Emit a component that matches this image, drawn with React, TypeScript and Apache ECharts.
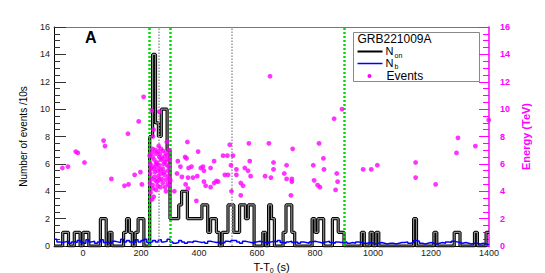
import React, { useEffect, useRef } from "react";
import * as echarts from "echarts";

const binStart = -100;
const binWidth = 10;

// N_on counts per 10 s bin, from T-T0 = -100 s to 1390 s
const nOn = [
  0, 0, 0, 1, 1, 0, 0, 1, 1, 0,
  1, 1, 0, 0, 0, 0, 2, 2, 0, 1,
  0, 0, 0, 0, 1, 2, 1, 0, 1, 2,
  2, 0, 0, 8, 14, 9, 8, 10, 10, 7,
  2, 2, 2, 3, 4, 4, 2, 2, 2, 2,
  2, 3, 3, 1, 2, 2, 1, 0, 1, 1,
  3, 3, 1, 1, 3, 3, 2, 3, 3, 0,
  0, 0, 1, 0, 3, 2, 0, 0, 0, 1,
  3, 3, 1, 0, 0, 0, 0, 0, 0, 2,
  1, 2, 2, 0, 0, 0, 2, 2, 1, 1,
  0, 0, 0, 0, 0, 0, 1, 0, 0, 1,
  0, 1, 0, 0, 0, 0, 0, 0, 0, 0,
  0, 0, 0, 0, 2, 0, 0, 0, 0, 0,
  0, 1, 0, 0, 0, 0, 0, 0, 1, 1,
  0, 0, 0, 0, 0, 1, 0, 0, 0, 1,
];

// N_b background per 10 s bin
const nB = [
  0.5, 0.3, 0.25, 0.3, 0.35, 0.2, 0.3, 0.25, 0.4, 0.3,
  0.2, 0.45, 0.3, 0.35, 0.2, 0.3, 0.45, 0.25, 0.3, 0.2,
  0.35, 0.3, 0.25, 0.5, 0.3, 0.4, 0.3, 0.25, 0.45, 0.3,
  0.4, 0.5, 0.25, 0.3, 0.4, 0.3, 0.45, 0.3, 0.35, 0.5,
  0.3, 0.2, 0.25, 0.4, 0.3, 0.2, 0.3, 0.25, 0.35, 0.3,
  0.25, 0.3, 0.2, 0.35, 0.3, 0.25, 0.3, 0.2, 0.25, 0.35,
  0.3, 0.4, 0.4, 0.3, 0.2, 0.35, 0.3, 0.25, 0.2, 0.3,
  0.35, 0.3, 0.25, 0.2, 0.3, 0.35, 0.3, 0.4, 0.25, 0.2,
  0.3, 0.35, 0.25, 0.3, 0.2, 0.3, 0.25, 0.2, 0.3, 0.35,
  0.3, 0.25, 0.2, 0.3, 0.35, 0.25, 0.2, 0.3, 0.25, 0.3,
  0.3, 0.2, 0.25, 0.2, 0.3, 0.25, 0.2, 0.2, 0.25, 0.2,
  0.15, 0.2, 0.25, 0.2, 0.15, 0.2, 0.2, 0.15, 0.2, 0.25,
  0.25, 0.3, 0.2, 0.25, 0.4, 0.35, 0.2, 0.15, 0.2, 0.25,
  0.2, 0.15, 0.2, 0.25, 0.2, 0.3, 0.25, 0.35, 0.3, 0.25,
  0.2, 0.25, 0.2, 0.15, 0.2, 0.2, 0.15, 0.2, 0.15, 0.1,
];

// Events: [T-T0 (s), energy (TeV)]
const preBurstEvents = [
  [-71, 5.7], [-52, 5.8], [-25, 6.9], [-18, 6.8], [5, 6.1], [71, 7.7], [76, 7.3],
  [98, 4.9], [143, 4.4], [157, 4.5], [155, 8.2], [178, 5.2], [198, 5.4], [203, 4.5],
  [209, 10.9], [192, 9.1],
];
const burstEvents = [
  [237, 9.9], [263, 9.8], [243, 8.5], [241, 8.0], [289, 7.6],
  [269, 7.1], [258, 6.9], [275, 6.95], [252, 6.75], [286, 6.8], [240, 6.5], [263, 6.5],
  [281, 6.55], [292, 6.6], [246, 6.3], [269, 6.3], [255, 6.1], [283, 6.15], [232, 6.0],
  [263, 5.9], [290, 5.9], [244, 5.65], [275, 5.65], [258, 5.5], [292, 5.5], [232, 5.3],
  [269, 5.3], [281, 5.2], [246, 5.05], [263, 4.85], [286, 4.85], [255, 4.7], [275, 4.6],
  [292, 4.55], [240, 4.45], [267, 4.3], [298, 4.4], [252, 4.1], [286, 4.0], [244, 3.6],
  [240, 7.1], [298, 6.3], [234, 5.65], [237, 6.8], [249, 7.0], [261, 7.3], [272, 6.4],
  [278, 6.0], [288, 6.3], [296, 5.8], [236, 4.9], [248, 5.4], [260, 5.1], [271, 4.9],
  [279, 5.4], [294, 5.1], [242, 4.2], [257, 4.4], [283, 4.3], [231, 4.6], [265, 6.7],
  [251, 6.0], [238, 5.8], [299, 4.9], [253, 5.8], [266, 5.6], [230, 6.6], [233, 3.9],
  [238, 3.4], [296, 7.0], [250, 4.8],
];
const postBurstEvents = [
  [327, 6.2], [336, 5.8], [352, 6.5], [324, 5.3], [341, 5.05], [315, 4.0], [301, 4.8],
  [360, 7.6], [397, 6.9], [357, 6.4], [452, 6.2], [483, 6.6], [498, 6.6], [517, 6.6],
  [506, 7.4], [572, 7.5], [575, 6.2], [364, 5.7], [374, 5.8], [406, 5.7], [414, 5.8],
  [440, 5.7], [417, 5.5], [510, 5.9], [529, 5.6], [558, 5.7], [569, 5.5], [362, 5.0],
  [379, 5.0], [394, 5.1], [489, 5.2], [500, 5.2], [529, 5.2], [578, 5.1], [354, 4.5],
  [417, 4.7], [452, 4.6], [460, 4.75], [466, 4.7], [423, 4.4], [440, 4.3], [544, 4.6],
  [552, 4.4], [362, 4.2], [512, 4.0], [391, 3.3], [544, 3.7],
  [645, 12.4], [866, 9.3], [893, 10.0], [641, 7.5], [814, 7.5], [723, 7.1], [829, 6.4],
  [657, 6.1], [657, 5.6], [702, 5.9], [794, 5.9], [831, 5.6], [628, 5.1], [648, 5.0],
  [694, 5.3], [702, 4.9], [720, 4.9], [720, 4.7], [797, 4.8], [875, 5.3], [878, 4.7],
  [809, 4.45], [817, 4.3], [871, 4.1], [717, 3.7], [966, 5.6], [994, 5.6], [1015, 5.9],
  [1147, 6.1], [1147, 5.0], [1216, 4.5], [1288, 6.8], [1293, 7.9], [1353, 7.3], [1399, 9.2],
];

const greenLines = [230, 300, 900];
const grayLines = [260, 512];

const FONT = "Liberation Sans";
const MAGENTA = "#ff00ff";

export default function App() {
  const ref = useRef<HTMLDivElement>(null);
  useEffect(() => {
    const chart = echarts.init(ref.current!, null, { renderer: "svg" });
    const toStep = (arr: number[]) => {
      const d = arr.map((v, i) => [binStart + i * binWidth, v]);
      d.push([binStart + arr.length * binWidth, arr[arr.length - 1]]);
      return d;
    };
    const onData = toStep(nOn);
    const bData = toStep(nB);
    const events = [...preBurstEvents, ...burstEvents, ...postBurstEvents];

    const legText = (text: string, x: number, y: number, size: number, lh: number) => ({
      type: "text",
      x,
      y,
      style: {
        text,
        font: `${size}px "${FONT}"`,
        fill: "#000",
        verticalAlign: "middle",
        lineHeight: lh,
      },
    });

    chart.setOption({
      animation: false,
      textStyle: { fontFamily: FONT },
      grid: { left: 54, right: 56, top: 27, bottom: 27, containLabel: false, outerBoundsMode: "none" },
      xAxis: [
        {
          type: "value",
          min: -100,
          max: 1400,
          interval: 100,
          name: "T-T{sub|0} (s)",
          nameLocation: "middle",
          nameGap: 8,
          nameTextStyle: {
            fontFamily: FONT,
            fontSize: 11,
            color: "#000",
            rich: { sub: { fontSize: 7, verticalAlign: "bottom", padding: [6, 0, 0, 0], fontFamily: FONT } },
          },
          axisLine: { show: true, onZero: false, lineStyle: { color: "#000", width: 1 } },
          axisTick: { show: false },
          splitLine: { show: false },
          axisLabel: {
            fontFamily: FONT,
            fontSize: 9,
            color: "#222",
            margin: 2,
            showMinLabel: true,
            showMaxLabel: true,
            formatter: (v: number) => (v >= 0 && v % 200 === 0 ? String(v) : ""),
          },
        },
        {
          type: "value",
          position: "top",
          min: -100,
          max: 1400,
          interval: 100,
          axisLine: { show: true, onZero: false, lineStyle: { color: "#777", width: 1 } },
          axisTick: { show: false },
          axisLabel: { show: false },
          splitLine: { show: false },
        },
      ],
      yAxis: [
        {
          type: "value",
          position: "left",
          min: 0,
          max: 16,
          interval: 2,
          name: "Number of events /10s",
          nameLocation: "middle",
          nameRotate: 90,
          nameGap: 26,
          nameTextStyle: { fontFamily: FONT, fontSize: 10, color: "#000" },
          axisLine: { show: true, onZero: false, lineStyle: { color: "#000", width: 1 } },
          axisTick: { show: true, inside: true, length: 12, lineStyle: { color: "#333" } },
          minorTick: { show: true, splitNumber: 4, length: 6, lineStyle: { color: "#333" } },
          splitLine: { show: false },
          axisLabel: { fontFamily: FONT, fontSize: 9, color: "#222", margin: 4 },
        },
        {
          type: "value",
          position: "right",
          min: 0,
          max: 16,
          interval: 2,
          name: "Energy (TeV)",
          nameLocation: "middle",
          nameRotate: 90,
          nameGap: 30,
          nameTextStyle: { fontFamily: FONT, fontSize: 11, fontWeight: "bold", color: MAGENTA },
          axisLine: { show: true, onZero: false, lineStyle: { color: MAGENTA, width: 1.5 } },
          axisTick: { show: true, inside: true, length: 10, lineStyle: { color: MAGENTA } },
          minorTick: { show: true, splitNumber: 4, length: 6, lineStyle: { color: MAGENTA } },
          splitLine: { show: false },
          axisLabel: { fontFamily: FONT, fontSize: 9, fontWeight: "bold", color: MAGENTA, margin: 11 },
        },
      ],
      series: [
        {
          name: "Non",
          type: "line",
          step: "end",
          data: onData,
          symbol: "none",
          lineStyle: { color: "#000", width: 3.2 },
          z: 2,
          markLine: {
            silent: true,
            symbol: ["none", "none"],
            label: { show: false },
            data: [
              ...greenLines.map((x) => ({
                xAxis: x,
                lineStyle: { color: "#00e000", type: [2, 2], width: 2.5 },
              })),
              ...grayLines.map((x) => ({
                xAxis: x,
                lineStyle: { color: "#999", type: [1.5, 1.5], width: 1.5 },
              })),
            ],
          },
        },
        {
          name: "NonCore",
          type: "line",
          step: "end",
          data: onData,
          symbol: "none",
          lineStyle: { color: "#8a8a8a", width: 1.2 },
          z: 3,
        },
        {
          name: "Nb",
          type: "line",
          step: "end",
          data: bData,
          symbol: "none",
          lineStyle: { color: "#0000ff", width: 1.5 },
          z: 4,
        },
        {
          name: "Events",
          type: "scatter",
          yAxisIndex: 1,
          data: events,
          symbol: "circle",
          symbolSize: 4.8,
          itemStyle: { color: MAGENTA },
          z: 5,
        },
      ],
      graphic: [
        {
          type: "text",
          left: 85,
          top: 29,
          style: { text: "A", font: `bold 16px "${FONT}"`, fill: "#000" },
          z: 10,
        },
        {
          type: "group",
          left: 353,
          top: 32,
          z: 10,
          children: [
            {
              type: "rect",
              shape: { x: 0, y: 0, width: 126, height: 49 },
              style: { fill: "#fff", stroke: "#888", lineWidth: 1 },
            },
            legText("GRB221009A", 4, 6.5, 12, 12),
            { type: "line", shape: { x1: 4, y1: 19, x2: 29, y2: 19 }, style: { stroke: "#000", lineWidth: 2 } },
            legText("N", 32, 18.5, 11, 11),
            legText("on", 41, 23, 7, 7),
            { type: "line", shape: { x1: 4, y1: 31, x2: 29, y2: 31 }, style: { stroke: "#0000ff", lineWidth: 1.5 } },
            legText("N", 32, 30.5, 11, 11),
            legText("b", 41, 33.5, 7, 7),
            { type: "circle", shape: { cx: 16, cy: 43.5, r: 2 }, style: { fill: MAGENTA } },
            legText("Events", 33, 43.5, 12, 12),
          ],
        },
      ],
    });
    return () => chart.dispose();
  }, []);
  return <div ref={ref} style={{ position: "absolute", left: 0, top: 0, width: 545, height: 273 }} />;
}
